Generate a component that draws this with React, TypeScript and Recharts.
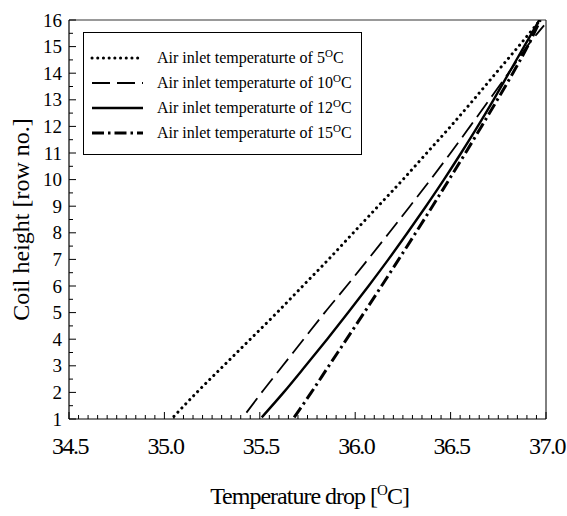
import React from "react";
import { LineChart, Line, XAxis, YAxis, ReferenceLine, ReferenceDot, Legend, Label } from "recharts";

// Air inlet 5 °C (dotted)
const s5 = [
  { x: 35.05, y: 1.1 }, { x: 35.17, y: 2 }, { x: 35.31, y: 3 }, { x: 35.45, y: 4 },
  { x: 35.59, y: 5 }, { x: 35.725, y: 6 }, { x: 35.86, y: 7 }, { x: 35.99, y: 8 },
  { x: 36.12, y: 9 }, { x: 36.25, y: 10 }, { x: 36.375, y: 11 }, { x: 36.5, y: 12 },
  { x: 36.62, y: 13 }, { x: 36.737, y: 14 }, { x: 36.855, y: 15 }, { x: 36.97, y: 16 },
];
// Air inlet 10 °C (dashed)
const s10 = [
  { x: 35.43, y: 1.24 }, { x: 35.51, y: 2 }, { x: 35.62, y: 3 }, { x: 35.73, y: 4 },
  { x: 35.84, y: 5 }, { x: 35.955, y: 6 }, { x: 36.067, y: 7 }, { x: 36.178, y: 8 },
  { x: 36.287, y: 9 }, { x: 36.395, y: 10 }, { x: 36.5, y: 11 }, { x: 36.602, y: 12 },
  { x: 36.703, y: 13 }, { x: 36.803, y: 14 }, { x: 36.9, y: 15 }, { x: 36.99, y: 15.8 },
];
// Air inlet 12 °C (solid)
const s12 = [
  { x: 35.51, y: 1.06 }, { x: 35.625, y: 2 }, { x: 35.74, y: 3 }, { x: 35.853, y: 4 },
  { x: 35.963, y: 5 }, { x: 36.07, y: 6 }, { x: 36.174, y: 7 }, { x: 36.274, y: 8 },
  { x: 36.371, y: 9 }, { x: 36.465, y: 10 }, { x: 36.555, y: 11 }, { x: 36.642, y: 12 },
  { x: 36.725, y: 13 }, { x: 36.805, y: 14 }, { x: 36.885, y: 15 }, { x: 36.965, y: 16 },
];
// Air inlet 15 °C (dash-dot)
const s15 = [
  { x: 35.68, y: 1.06 }, { x: 35.77, y: 2 }, { x: 35.862, y: 3 }, { x: 35.955, y: 4 },
  { x: 36.047, y: 5 }, { x: 36.138, y: 6 }, { x: 36.228, y: 7 }, { x: 36.317, y: 8 },
  { x: 36.405, y: 9 }, { x: 36.492, y: 10 }, { x: 36.578, y: 11 }, { x: 36.662, y: 12 },
  { x: 36.745, y: 13 }, { x: 36.826, y: 14 }, { x: 36.903, y: 15 }, { x: 36.97, y: 16 },
];

const xMajorTicks = [34.5, 35.0, 35.5, 36.0, 36.5, 37.0];
const yMajorTicks = [1, 2, 3, 4, 5, 6, 7, 8, 9, 10, 11, 12, 13, 14, 15, 16];
const legendTemps = ["5", "10", "12", "15"];

const xAllTicks: number[] = [];
for (let i = 0; i <= 50; i++) xAllTicks.push(Math.round((34.5 + i * 0.05) * 100) / 100);
const yAllTicks: number[] = [];
for (let i = 0; i <= 30; i++) yAllTicks.push(1 + i * 0.5);

const FONT = "Liberation Serif";

const isMajorX = (v: number) => xMajorTicks.some((t) => Math.abs(t - v) < 1e-6);
const isMajorY = (v: number) => yMajorTicks.some((t) => Math.abs(t - v) < 1e-6);

const renderXTick = (props: any) => {
  const { x, y, payload, index } = props;
  const v = payload.value as number;
  const major = isMajorX(v);
  return (
    <g key={`xt-${index}`}>
      <line x1={x} x2={x} y1={y} y2={y - (major ? 7 : 4)} stroke="#000" strokeWidth={1} />
    </g>
  );
};

const renderXLabel = (p: any, v: number) => {
  const vb = p.viewBox || {};
  const cx = (vb.x || 0) + (vb.width || 0) / 2;
  const cy = (vb.y || 0) + (vb.height || 0) / 2;
  return (
    <text x={cx + 1} y={cy + 35} textAnchor="middle" fill="#000"
      style={{ fontFamily: FONT, fontSize: 24, letterSpacing: "-1.5px" }}>
      {v.toFixed(1)}
    </text>
  );
};

const renderYTick = (props: any) => {
  const { x, y, payload, index } = props;
  const v = payload.value as number;
  const major = isMajorY(v);
  return (
    <g key={`yt-${index}`}>
      <line x1={x} x2={x + (major ? 7 : 4)} y1={y} y2={y} stroke="#000" strokeWidth={1} />
      {major ? (
        <text x={x - 7} y={y + 6.5} textAnchor="end" fill="#000"
          style={{ fontFamily: FONT, fontSize: 19 }}>
          {String(v)}
        </text>
      ) : null}
    </g>
  );
};

const styles = [
  { dash: "0.1 5.6", width: 3, cap: "round" as const },
  { dash: "18 7", width: 1.8, cap: "butt" as const },
  { dash: undefined, width: 2.4, cap: "butt" as const },
  { dash: "12 4 2.5 4", width: 3, cap: "butt" as const },
];

const LegendBox = () => (
  <svg width={280} height={124} style={{ display: "block" }}>
    <rect x={0.5} y={0.5} width={278} height={122} fill="#fff" stroke="#000" strokeWidth={1} />
    {legendTemps.map((t, i) => {
      const cy = 26 + i * 25;
      const st = styles[i];
      return (
        <g key={t}>
          <line x1={9} x2={60} y1={cy} y2={cy} stroke="#000" strokeWidth={st.width}
            strokeDasharray={st.dash} strokeLinecap={st.cap} />
          <text x={74} y={cy + 5} fill="#000" style={{ fontFamily: FONT, fontSize: 16 }}>
            {`Air inlet temperaturte of ${t}`}
            <tspan dy={-6} style={{ fontSize: 11 }}>O</tspan>
            <tspan dy={6}>C</tspan>
          </text>
        </g>
      );
    })}
  </svg>
);

export default function App() {
  const series = [s5, s10, s12, s15];
  return (
    <div style={{ width: 567, height: 516, overflow: "hidden" }}>
      <style>{`html, body { margin: 0; padding: 0; overflow: hidden; }`}</style>
      <LineChart width={567} height={516} margin={{ top: 20, right: 21, bottom: 67, left: 29 }}>
        <XAxis
          dataKey="x"
          type="number"
          domain={[34.5, 37]}
          allowDataOverflow
          ticks={xAllTicks}
          interval={0}
          tickSize={0}
          tickMargin={0}
          tickLine={false}
          tick={renderXTick}
          tickFormatter={() => ""}
          height={30}
          axisLine={{ stroke: "#000", strokeWidth: 1.2 }}
        >
          <Label
            content={(p: any) => {
              const vb = p.viewBox;
              return (
                <text x={vb.x + vb.width / 2 + 2} y={504} textAnchor="middle" fill="#000"
                  style={{ fontFamily: FONT, fontSize: 24, letterSpacing: "-1px" }}>
                  Temperature drop [<tspan dy={-9} style={{ fontSize: 15 }}>O</tspan>
                  <tspan dy={9}>C]</tspan>
                </text>
              );
            }}
          />
        </XAxis>
        <YAxis
          dataKey="y"
          type="number"
          domain={[1, 16]}
          allowDataOverflow
          ticks={yAllTicks}
          interval={0}
          tickSize={0}
          tickMargin={0}
          tickLine={false}
          tick={renderYTick}
          width={40}
          axisLine={{ stroke: "#000", strokeWidth: 1.2 }}
        >
          <Label
            content={(p: any) => {
              const vb = p.viewBox;
              const cy = vb.y + vb.height / 2;
              return (
                <text x={29} y={cy} transform={`rotate(-90, 29, ${cy})`} textAnchor="middle"
                  fill="#000" style={{ fontFamily: FONT, fontSize: 24 }}>
                  Coil height [row no.]
                </text>
              );
            }}
          />
        </YAxis>
        <ReferenceLine y={16} stroke="#777" strokeWidth={1.5} />
        <ReferenceLine x={37} stroke="#000" strokeWidth={1} />
        {series.map((d, i) => (
          <Line
            key={i}
            data={d}
            dataKey="y"
            type="monotone"
            stroke="#000"
            strokeWidth={styles[i].width}
            strokeDasharray={styles[i].dash}
            strokeLinecap={styles[i].cap}
            dot={false}
            activeDot={false}
            isAnimationActive={false}
            legendType="none"
          />
        ))}
        {xMajorTicks.map((v) => (
          <ReferenceDot
            key={`xl-${v}`}
            x={v}
            y={1}
            r={0.01}
            fill="none"
            stroke="none"
            ifOverflow="visible"
            label={(p: any) => renderXLabel(p, v)}
          />
        ))}
        <Legend
          layout="horizontal"
          verticalAlign="middle"
          align="center"
          content={<LegendBox />}
          wrapperStyle={{ left: 83, top: 32, width: 280, height: 124 }}
        />
      </LineChart>
    </div>
  );
}
